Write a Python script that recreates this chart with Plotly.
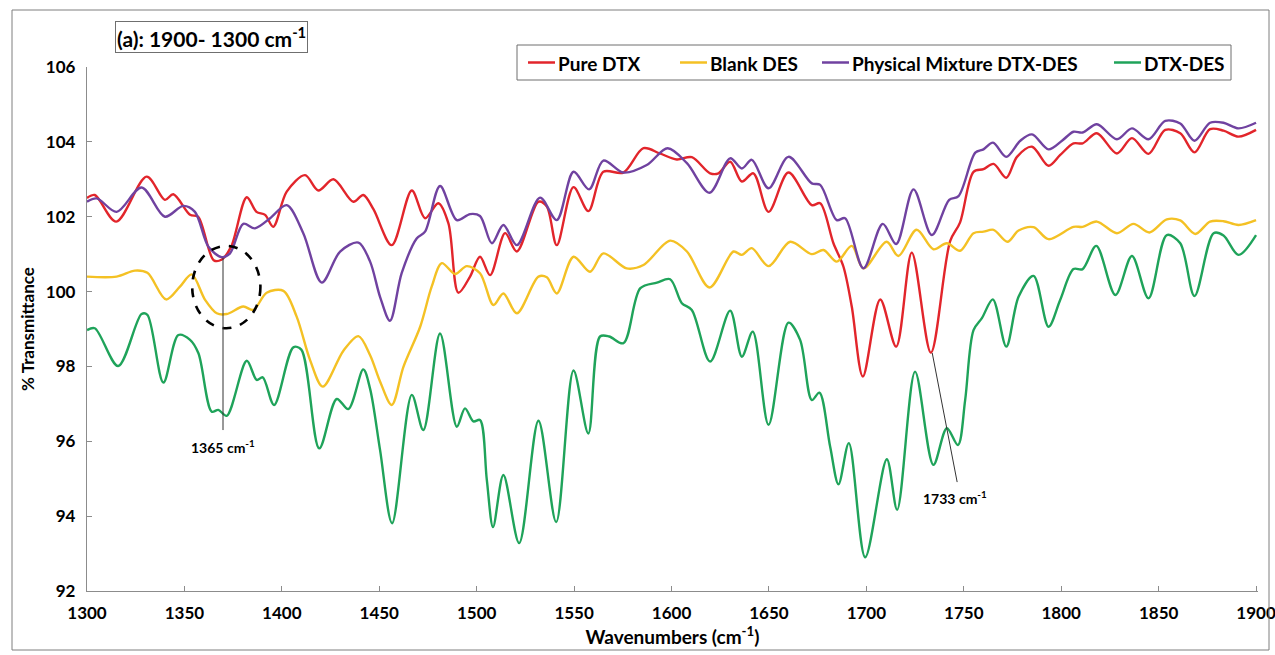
import plotly.graph_objects as go

# ---------------- data ----------------
pure_dtx_x = [1300, 1304, 1315, 1330.6, 1340, 1344.3, 1352.9, 1357, 1365, 1369, 1374, 1382, 1387, 1391.4,
              1395.6, 1402.5, 1411.9, 1418.7, 1426.5, 1436.7, 1441.8, 1447, 1456.4, 1466.7, 1473.5, 1480.3,
              1485.5, 1490.6, 1496.6, 1501.7, 1506.9, 1514.6, 1520.6, 1531.7, 1536, 1541.1, 1549.7, 1557.3,
              1565, 1575.3, 1585.6, 1594, 1602.7, 1610.4, 1619.8, 1624.1, 1630.1, 1636.1, 1642, 1649.8, 1660,
              1672, 1676.3, 1683.1, 1688.2, 1692.5, 1698.2, 1707.1, 1715.3, 1723.3, 1733.1, 1743, 1748.1,
              1755, 1760.1, 1765.3, 1771.8, 1777.3, 1785, 1793.5, 1799.5, 1806.3, 1811, 1818.3, 1828.6,
              1836.3, 1844.8, 1853.4, 1861.1, 1868.4, 1876.4, 1883.3, 1891, 1900]
pure_dtx_y = [102.5, 102.58, 101.87, 103.07, 102.45, 102.6, 102.05, 102.0, 100.84, 100.85, 101.2, 102.52,
              102.13, 102.05, 101.73, 102.67, 103.11, 102.7, 103.0, 102.4, 102.58, 102.2, 101.24, 102.7,
              101.96, 102.36, 101.82, 99.97, 100.4, 100.93, 100.44, 101.56, 101.07, 102.4, 102.27, 101.24,
              102.79, 102.15, 103.2, 103.18, 103.83, 103.69, 103.53, 103.59, 103.16, 103.16, 103.47, 102.94,
              103.16, 102.13, 103.18, 102.31, 102.36, 101.29, 100.67, 99.6, 97.73, 99.79, 98.53, 101.04,
              98.37, 101.35, 101.85, 103.2, 103.27, 103.41, 103.04, 103.6, 103.87, 103.36, 103.65, 103.96,
              103.96, 104.23, 103.69, 104.1, 103.68, 104.32, 104.23, 103.72, 104.34, 104.3, 104.14, 104.32]

blank_des_x = [1300, 1315.2, 1324.6, 1331, 1340.6, 1347.7, 1353.7, 1360.6, 1366.6, 1371.7, 1380.2, 1385.4,
               1392.2, 1400.8, 1407.6, 1414.5, 1421, 1431.6, 1439.3, 1445.3, 1450.4, 1456.4, 1462.4, 1471,
               1476.9, 1482.1, 1488.9, 1494.9, 1501.7, 1508.6, 1513.7, 1520.6, 1531.7, 1536, 1541.1, 1549.7,
               1558.2, 1565, 1577, 1585.6, 1599.3, 1607.9, 1619.5, 1631.8, 1636.1, 1641.2, 1649.8, 1660.9,
               1672, 1678, 1684.8, 1692.5, 1698.5, 1710.4, 1716.4, 1725.8, 1734.4, 1741.3, 1748.1, 1755,
               1760.1, 1765.3, 1772.4, 1778.1, 1785.8, 1793.5, 1806.3, 1811, 1818.3, 1828.6, 1837.1, 1845.3,
               1854.2, 1861.1, 1868.8, 1876.4, 1883.3, 1891, 1900]
blank_des_y = [100.4, 100.4, 100.56, 100.5, 99.79, 100.13, 100.46, 99.78, 99.42, 99.4, 99.6, 99.51, 99.97,
               100.02, 99.33, 98.17, 97.46, 98.42, 98.81, 98.3, 97.6, 96.97, 97.99, 99.06, 100.13, 100.76,
               100.47, 100.68, 100.49, 99.64, 99.95, 99.42, 100.4, 100.38, 99.95, 100.93, 100.53, 101.02,
               100.62, 100.71, 101.36, 101.07, 100.11, 101.07, 100.98, 101.16, 100.68, 101.33, 101.0, 101.11,
               100.8, 101.22, 100.62, 101.33, 100.95, 101.65, 101.13, 101.29, 101.09, 101.56, 101.6, 101.65,
               101.33, 101.63, 101.72, 101.4, 101.73, 101.73, 101.87, 101.56, 101.81, 101.58, 101.93, 101.9,
               101.54, 101.87, 101.88, 101.78, 101.91]

phys_mix_x = [1300, 1305, 1315.2, 1328, 1340, 1349.4, 1355.4, 1362.3, 1369.1, 1373.4, 1380.2, 1386.2, 1394,
              1402.5, 1411, 1420.5, 1429.9, 1439.3, 1445.3, 1450.4, 1455.5, 1461.5, 1469.2, 1473.5, 1481.2,
              1489.8, 1496.6, 1501.7, 1507.8, 1513.7, 1520.6, 1532.5, 1541.1, 1549.7, 1557.7, 1565, 1575.3,
              1587.3, 1598, 1607.9, 1619.5, 1630.1, 1636.1, 1641.2, 1649.8, 1660, 1672, 1676.3, 1684.8,
              1689.1, 1698.5, 1708.4, 1715.3, 1724.2, 1733.6, 1742.5, 1747.3, 1755.9, 1760.1, 1765, 1771.8,
              1779, 1785, 1793.5, 1800.4, 1806.3, 1811, 1818.3, 1828.6, 1836.3, 1844.8, 1853.4, 1861.1,
              1868.4, 1876.4, 1883.3, 1891, 1900]
phys_mix_y = [102.4, 102.49, 102.13, 102.78, 102.0, 102.29, 102.13, 101.2, 100.92, 101.02, 101.81, 101.69,
              101.96, 102.31, 101.56, 100.24, 101.07, 101.31, 100.8, 99.86, 99.22, 100.49, 101.42, 101.6,
              102.82, 101.91, 102.07, 102.02, 101.29, 101.78, 101.24, 102.51, 101.91, 103.2, 102.73, 103.5,
              103.18, 103.38, 103.83, 103.43, 102.64, 103.56, 103.29, 103.52, 102.76, 103.6, 102.89, 102.85,
              101.91, 101.96, 100.62, 101.81, 101.27, 102.73, 101.51, 102.45, 102.55, 103.71, 103.8, 103.98,
              103.6, 104.03, 104.2, 103.8, 104.03, 104.27, 104.25, 104.47, 104.07, 104.36, 104.07, 104.56,
              104.49, 104.03, 104.51, 104.51, 104.36, 104.51]

dtx_des_x = [1300, 1304, 1316, 1328, 1331, 1339.2, 1346.9, 1352.9, 1357.2, 1364, 1367.4, 1371.7, 1382,
             1387.1, 1390.2, 1396, 1405.9, 1410, 1419.2, 1428.2, 1434.1, 1441.8, 1445.3, 1450.4, 1456.6,
             1466.7, 1472.6, 1481.2, 1489.8, 1494, 1498.3, 1501.7, 1505.2, 1508.4, 1513.7, 1521.8, 1531.7,
             1540.8, 1549.7, 1557.3, 1563.3, 1568, 1575.3, 1584, 1592.5, 1599.3, 1605.3, 1610.4, 1619.8,
             1630.1, 1636.1, 1641.7, 1649.8, 1660, 1666, 1672, 1675.9, 1681.4, 1685.7, 1691, 1699.4,
             1710.5, 1715.8, 1725, 1734.4, 1741.3, 1747, 1750.7, 1755, 1759.3, 1764.9, 1771.8, 1778.1,
             1785.8, 1793.5, 1799.5, 1806.3, 1811, 1818, 1827.8, 1836.3, 1844.8, 1854.2, 1861.1, 1868.4,
             1878.2, 1883.3, 1891, 1900]
dtx_des_y = [98.97, 99.02, 98.01, 99.4, 99.38, 97.57, 98.84, 98.71, 98.35, 96.79, 96.84, 96.68, 98.15,
             97.64, 97.71, 96.97, 98.51, 98.45, 95.81, 97.13, 96.86, 97.92, 97.4, 95.77, 93.81, 97.24, 96.3,
             98.88, 96.39, 96.88, 96.53, 96.57, 94.97, 93.71, 95.1, 93.28, 96.55, 93.84, 97.89, 96.21, 98.8,
             98.8, 98.62, 100.09, 100.24, 100.33, 99.69, 99.51, 98.13, 99.49, 98.26, 98.93, 96.44, 99.17,
             98.71, 97.1, 97.3, 95.86, 94.85, 95.95, 92.9, 95.52, 94.17, 97.86, 95.37, 96.35, 95.9, 97.1,
             98.97, 99.29, 99.79, 98.53, 99.86, 100.42, 99.06, 99.78, 100.6, 100.6, 101.22, 99.91, 100.95,
             99.82, 101.51, 101.29, 99.88, 101.56, 101.5, 100.98, 101.51]

series_names = ["Pure DTX", "Blank DES", "Physical Mixture DTX-DES", "DTX-DES"]
series_colors = ["#E2252B", "#F4C124", "#7042A0", "#1FA35A"]
x_ticks = [1300, 1350, 1400, 1450, 1500, 1550, 1600, 1650, 1700, 1750, 1800, 1850, 1900]
y_ticks = [92, 94, 96, 98, 100, 102, 104, 106]

FONT = "Lato"
W, H = 1275, 655
L, R, T, B = 87, 17, 67, 64
PW, PH = W - L - R, H - T - B
X_RANGE = [1300, 1901]


def px(xp):
    return (xp - L) / PW


def py(yp):
    return (H - B - yp) / PH


fig = go.Figure()
xs = [pure_dtx_x, blank_des_x, phys_mix_x, dtx_des_x]
ys = [pure_dtx_y, blank_des_y, phys_mix_y, dtx_des_y]
for name, color, x, y in zip(series_names, series_colors, xs, ys):
    fig.add_trace(go.Scatter(x=x, y=y, name=name, mode="lines",
                             line=dict(color=color, width=2.4, shape="spline", smoothing=0.9),
                             showlegend=False))

axis_col = "#8C8C8C"
fig.update_layout(
    width=W, height=H,
    margin=dict(l=L, r=R, t=T, b=B, autoexpand=False),
    paper_bgcolor="white", plot_bgcolor="white",
    font=dict(family=FONT, color="black"),
    xaxis=dict(range=X_RANGE, tickvals=x_ticks, showgrid=False, zeroline=False, automargin=False,
               showline=True, linecolor=axis_col, linewidth=1.3,
               ticks="inside", ticklen=5, tickcolor=axis_col,
               tickfont=dict(size=17, family=FONT, weight="bold"),
               ticklabelstandoff=6, ticklabeloverflow="allow",
               title=dict(text="<b>Wavenumbers (cm<sup>-1</sup>)</b>", font=dict(size=19, family=FONT),
                          standoff=4)),
    yaxis=dict(range=[92, 106], tickvals=y_ticks, showgrid=False, zeroline=False, automargin=False,
               showline=True, linecolor=axis_col, linewidth=1.3,
               ticks="inside", ticklen=5, tickcolor=axis_col,
               tickfont=dict(size=17, family=FONT, weight="bold"),
               ticklabelstandoff=7, ticklabeloverflow="allow",
               title=dict(text="<b>% Transmittance</b>", font=dict(size=17, family=FONT),
                          standoff=6)),
)

shapes = []
annos = []
# outer frame
shapes.append(dict(type="rect", xref="paper", yref="paper",
                   x0=px(12), x1=px(1269), y0=py(650), y1=py(10),
                   line=dict(color="#7F7F7F", width=1)))
# title box
annos.append(dict(xref="paper", yref="paper", x=px(211), y=py(37), xanchor="center", yanchor="middle",
                  text="<b>(a): 1900- 1300 cm<sup>-1</sup></b>", showarrow=False,
                  font=dict(size=21, family=FONT, color="black"),
                  bordercolor="#6F6F6F", borderwidth=1, borderpad=1, bgcolor="white"))
# legend box
shapes.append(dict(type="rect", xref="paper", yref="paper",
                   x0=px(517), x1=px(1231), y0=py(80), y1=py(45),
                   line=dict(color="#6F6F6F", width=1), fillcolor="white", layer="below"))
leg_line_x = [528, 680, 822, 1114]
for name, color, lx in zip(series_names, series_colors, leg_line_x):
    shapes.append(dict(type="line", xref="paper", yref="paper",
                       x0=px(lx), x1=px(lx + 27), y0=py(62.5), y1=py(62.5),
                       line=dict(color=color, width=2.5)))
    annos.append(dict(xref="paper", yref="paper", x=px(lx + 28), y=py(63), xanchor="left",
                      yanchor="middle", text="<b>" + name + "</b>", showarrow=False,
                      font=dict(size=19, family=FONT, color="black")))

# 1365 annotation
shapes.append(dict(type="circle", xref="x", yref="y", x0=1354, x1=1389, y0=99.02, y1=101.22,
                   line=dict(color="black", width=2.6, dash="dash")))
shapes.append(dict(type="line", xref="x", yref="y", x0=1369.8, x1=1369.8, y0=100.9, y1=96.3,
                   line=dict(color="#333333", width=1)))
annos.append(dict(xref="x", yref="y", x=1369.8, y=95.85, text="<b>1365 cm<sup>-1</sup></b>",
                  showarrow=False, xanchor="center", yanchor="middle",
                  font=dict(size=14, family=FONT, color="black")))
# 1733 annotation
shapes.append(dict(type="line", xref="x", yref="y", x0=1733.8, x1=1746.6, y0=98.36, y1=94.91,
                   line=dict(color="#333333", width=1)))
annos.append(dict(xref="x", yref="y", x=1745.6, y=94.5, text="<b>1733 cm<sup>-1</sup></b>",
                  showarrow=False, xanchor="center", yanchor="middle",
                  font=dict(size=14, family=FONT, color="black")))

fig.update_layout(shapes=shapes, annotations=annos)
fig.write_html("out.html")
